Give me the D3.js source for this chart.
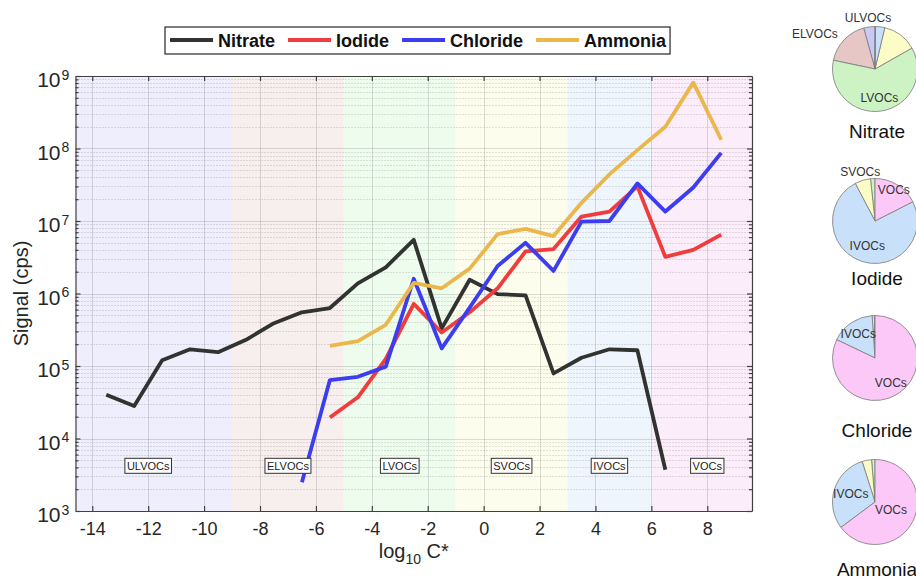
<!DOCTYPE html>
<html lang="en">
<head>
<meta charset="UTF-8">
<title>Signal vs log10 C*</title>
<script src="https://d3js.org/d3.v7.min.js"></script>
<style>
  body { margin: 0; background: #fff; font-family: "Liberation Sans", Arial, sans-serif; }
  .grid-major { stroke: #000; stroke-opacity: 0.13; stroke-width: 1; }
  .grid-minor { stroke: #000; stroke-opacity: 0.22; stroke-width: 1; stroke-dasharray: 1,2; }
  .series { fill: none; stroke-width: 3.8; stroke-linejoin: round; stroke-linecap: butt; }
  .axis path, .axis line { stroke: #404040; stroke-width: 1.2; }
  .axis text { font-family: "Liberation Sans", Arial, sans-serif; fill: #262626; }
  .class-box rect { fill: #fff; stroke: #333; stroke-width: 1; }
  .class-box text { font-size: 11px; fill: #222; }
  .pie-label { font-size: 12px; fill: #333; }
  .pie-title { font-size: 19px; fill: #111; }
</style>
</head>
<body>
<div id="chart"></div>
<script>
// bin centres, log10 C*
var logC = [-13.5, -12.5, -11.5, -10.5, -9.5, -8.5, -7.5, -6.5, -5.5, -4.5, -3.5, -2.5,
            -1.5, -0.5, 0.5, 1.5, 2.5, 3.5, 4.5, 5.5, 6.5, 7.5, 8.5];

// signal (cps) per reagent ion, null = no point
var nitrate  = [4.0e4, 2.8e4, 1.2e5, 1.7e5, 1.55e5, 2.3e5, 3.9e5, 5.5e5, 6.3e5, 1.38e6, 2.3e6, 5.5e6,
                3.3e5, 1.55e6, 9.8e5, 9.4e5, 7.9e4, 1.3e5, 1.7e5, 1.65e5, 3.7e3, null, null];
var iodide   = [null, null, null, null, null, null, null, null, 1.95e4, 3.7e4, 1.25e5, 7.2e5,
                2.9e5, 5.5e5, 1.18e6, 3.8e6, 4.1e6, 1.15e7, 1.35e7, 3.0e7, 3.2e6, 4.0e6, 6.5e6];
var chloride = [null, null, null, null, null, null, null, 2.5e3, 6.4e4, 7.1e4, 9.8e4, 1.6e6,
                1.75e5, 6.4e5, 2.4e6, 5.0e6, 2.05e6, 9.8e6, 1.0e7, 3.3e7, 1.35e7, 2.9e7, 8.7e7];
var ammonia  = [null, null, null, null, null, null, null, null, 1.9e5, 2.2e5, 3.7e5, 1.4e6,
                1.18e6, 2.2e6, 6.6e6, 7.8e6, 6.2e6, 1.78e7, 4.4e7, 9.5e7, 2.0e8, 8.1e8, 1.32e8];

var seriesNames = ["Nitrate", "Iodide", "Chloride", "Ammonia"];

// volatility classes
var classNames  = ["ULVOCs", "ELVOCs", "LVOCs", "SVOCs", "IVOCs", "VOCs"];
var classEdges  = [-9, -5, -1, 3, 6];
var classLabelX = [-12, -7, -3, 1, 4.5, 8];
var classLabelY = 4200;

var xTickValues = [-14, -12, -10, -8, -6, -4, -2, 0, 2, 4, 6, 8];
var yDecades = [1e3, 1e4, 1e5, 1e6, 1e7, 1e8, 1e9];

// pie shares (%) in class order ULVOCs..VOCs
var nitrateShares  = [4.3, 17.4, 61.5, 13.1, 3.5, 0.2];
var iodideShares   = [0, 0, 1.7, 6.0, 74.8, 17.5];
var chlorideShares = [0, 0, 0.3, 0.8, 16.8, 82.1];
var ammoniaShares  = [0, 0, 1.3, 3.6, 30.3, 64.8];

var nitratePieLabels  = ["ULVOCs", "ELVOCs", "LVOCs"];
var iodidePieLabels   = ["SVOCs", "VOCs", "IVOCs"];
var chloridePieLabels = ["IVOCs", "VOCs"];
var ammoniaPieLabels  = ["IVOCs", "VOCs"];

// ---- styling / layout ----
var W = 916, H = 580;
var lineColors = ["#30332f", "#f03c3c", "#3c3cf0", "#ebb74b"];
var bandColors = ["#eeeefc", "#f7efee", "#eefcee", "#fdfdee", "#eef5fd", "#fcedfb"];
var pieColors  = ["#c9c9f3", "#e7c6c6", "#cdf3c5", "#fcfcc6", "#c8e0f9", "#fbc8f7"];

var P = {left: 75.5, right: 752, top: 76, bottom: 511};

var svg = d3.select("#chart").append("svg")
    .attr("width", W).attr("height", H);

var x = d3.scaleLinear().domain([-14.6, 9.6]).range([P.left, P.right]);
var y = d3.scaleLog().domain([1e3, 1e9]).range([P.bottom, P.top]);

// background bands
var edges = [x.domain()[0]].concat(classEdges, [x.domain()[1]]);
svg.append("g").selectAll("rect")
    .data(classNames)
  .enter().append("rect")
    .attr("x", function(d, i) { return x(edges[i]); })
    .attr("width", function(d, i) { return x(edges[i + 1]) - x(edges[i]); })
    .attr("y", P.top)
    .attr("height", P.bottom - P.top)
    .attr("fill", function(d, i) { return bandColors[i]; });

// grid
var minorVals = [];
yDecades.slice(0, -1).forEach(function(d) {
    for (var k = 2; k <= 9; k++) minorVals.push(d * k);
});
var grid = svg.append("g");
grid.selectAll(".grid-minor").data(minorVals).enter().append("line")
    .attr("class", "grid-minor")
    .attr("x1", P.left).attr("x2", P.right)
    .attr("y1", function(d) { return Math.round(y(d)) + 0.5; })
    .attr("y2", function(d) { return Math.round(y(d)) + 0.5; });
grid.selectAll(".gy").data(yDecades.slice(1, -1)).enter().append("line")
    .attr("class", "grid-major")
    .attr("x1", P.left).attr("x2", P.right)
    .attr("y1", function(d) { return Math.round(y(d)) + 0.5; })
    .attr("y2", function(d) { return Math.round(y(d)) + 0.5; });
grid.selectAll(".gx").data(xTickValues).enter().append("line")
    .attr("class", "grid-major")
    .attr("y1", P.top).attr("y2", P.bottom)
    .attr("x1", function(d) { return Math.round(x(d)) + 0.5; })
    .attr("x2", function(d) { return Math.round(x(d)) + 0.5; });

// series lines
var allSeries = [nitrate, iodide, chloride, ammonia];
var line = d3.line()
    .defined(function(d) { return d != null; })
    .x(function(d, i) { return x(logC[i]); })
    .y(function(d) { return y(d); });

svg.append("g").selectAll("path")
    .data(allSeries)
  .enter().append("path")
    .attr("class", "series")
    .attr("stroke", function(d, i) { return lineColors[i]; })
    .attr("d", line);

// class label boxes
var boxes = svg.append("g").selectAll("g")
    .data(classNames)
  .enter().append("g")
    .attr("class", "class-box")
    .attr("transform", function(d, i) {
        return "translate(" + x(classLabelX[i]) + "," + y(classLabelY) + ")";
    });
boxes.append("text")
    .attr("text-anchor", "middle")
    .attr("dy", "0.36em")
    .text(function(d) { return d; });
boxes.each(function() {
    var g = d3.select(this);
    var w = g.select("text").node().getComputedTextLength() + 4;
    g.insert("rect", "text")
        .attr("x", -w / 2).attr("y", -7.5)
        .attr("width", w).attr("height", 15);
});

// axes
svg.append("g").attr("class", "axis")
    .attr("transform", "translate(0," + P.bottom + ")")
    .call(d3.axisBottom(x).tickValues(xTickValues).tickSizeInner(-5).tickSizeOuter(0)
        .tickPadding(11).tickFormat(function(d) { return String(d); }))
    .selectAll("text").style("font-size", "18px");

svg.append("g").attr("class", "axis")
    .attr("transform", "translate(0," + P.top + ")")
    .call(d3.axisTop(x).tickValues(xTickValues).tickSizeInner(-5).tickSizeOuter(0).tickFormat(""));

var yLeft = svg.append("g").attr("class", "axis")
    .attr("transform", "translate(" + P.left + ",0)")
    .call(d3.axisLeft(y).tickValues(yDecades).tickSizeInner(-5).tickSizeOuter(0).tickFormat(""));
svg.append("g").attr("class", "axis")
    .attr("transform", "translate(" + P.left + ",0)")
    .call(d3.axisLeft(y).tickValues(minorVals).tickSizeInner(-3).tickSizeOuter(0).tickFormat(""))
    .select(".domain").remove();
svg.append("g").attr("class", "axis")
    .attr("transform", "translate(" + P.right + ",0)")
    .call(d3.axisRight(y).tickValues(yDecades).tickSizeInner(-5).tickSizeOuter(0).tickFormat(""));
svg.append("g").attr("class", "axis")
    .attr("transform", "translate(" + P.right + ",0)")
    .call(d3.axisRight(y).tickValues(minorVals).tickSizeInner(-3).tickSizeOuter(0).tickFormat(""))
    .select(".domain").remove();

// y tick labels as 10^n
yLeft.selectAll(".tick").each(function(d) {
    var t = d3.select(this);
    t.append("text")
        .attr("x", -15).attr("y", 10.7)
        .attr("text-anchor", "end")
        .style("font-size", "21px")
        .text("10");
    t.append("text")
        .attr("x", -14).attr("y", 3)
        .attr("text-anchor", "start")
        .style("font-size", "14px")
        .text(Math.round(Math.log10(d)));
});

// axis titles
svg.append("text")
    .attr("transform", "translate(28," + (P.top + P.bottom) / 2 + ") rotate(-90)")
    .attr("text-anchor", "middle")
    .style("font-size", "20px").attr("fill", "#262626")
    .text("Signal (cps)");

var xt = svg.append("text")
    .attr("x", (P.left + P.right) / 2).attr("y", 558)
    .attr("text-anchor", "middle")
    .attr("fill", "#262626")
    .style("font-size", "20px");
xt.append("tspan").text("log");
xt.append("tspan").attr("dy", 6).style("font-size", "14px").text("10");
xt.append("tspan").attr("dy", -6).text(" C*");

// legend
var lg = svg.append("g");
var lgRect = lg.append("rect")
    .attr("x", 165).attr("y", 27).attr("height", 27)
    .attr("fill", "#fff").attr("stroke", "#262626").attr("stroke-width", 1.2);
var cx0 = 170;
seriesNames.forEach(function(name, i) {
    lg.append("line")
        .attr("x1", cx0).attr("x2", cx0 + 43)
        .attr("y1", 40).attr("y2", 40)
        .attr("stroke", lineColors[i]).attr("stroke-width", 3.8);
    var t = lg.append("text")
        .attr("x", cx0 + 48).attr("y", 46.5)
        .style("font-size", "18px").style("font-weight", "bold")
        .attr("fill", "#111")
        .text(name);
    cx0 += 48 + t.node().getComputedTextLength() + 13;
});
lgRect.attr("width", cx0 - 13 + 4 - 165);

// pies
var pieShares = [nitrateShares, iodideShares, chlorideShares, ammoniaShares];
var pieLabels = [nitratePieLabels, iodidePieLabels, chloridePieLabels, ammoniaPieLabels];
var pieCY = [69, 221, 358, 502];
var pieTitleY = [138, 285, 437, 576];
var pieCX = 875, pieR = 42.5;
var labelRadius = [
    {ULVOCs: 1.22, ELVOCs: 1.2, LVOCs: 0.68},
    {SVOCs: 1.2, VOCs: 0.85, IVOCs: 0.6},
    {IVOCs: 0.7, VOCs: 0.7},
    {IVOCs: 0.6, VOCs: 0.42}
];

var pie = d3.pie().sort(null).startAngle(0).endAngle(-2 * Math.PI)
    .value(function(d) { return d.v; });
var arc = d3.arc().innerRadius(0).outerRadius(pieR);

seriesNames.forEach(function(name, p) {
    var data = classNames.map(function(c, i) { return {c: c, i: i, v: pieShares[p][i]}; })
        .filter(function(d) { return d.v > 0; });
    var g = svg.append("g").attr("transform", "translate(" + pieCX + "," + pieCY[p] + ")");
    var arcs = pie(data);
    g.selectAll("path").data(arcs).enter().append("path")
        .attr("d", arc)
        .attr("fill", function(d) { return pieColors[d.data.i]; })
        .attr("stroke", "#7a7a7a").attr("stroke-width", 0.8);
    arcs.forEach(function(a) {
        if (pieLabels[p].indexOf(a.data.c) < 0) return;
        var f = labelRadius[p][a.data.c];
        var ang = (a.startAngle + a.endAngle) / 2;
        var lx = Math.sin(ang) * pieR * f, ly = -Math.cos(ang) * pieR * f;
        var anchor = "middle";
        if (f > 1 && Math.sin(ang) < -0.4) anchor = "end";
        if (f > 1 && Math.sin(ang) > 0.4) anchor = "start";
        g.append("text").attr("class", "pie-label")
            .attr("x", lx).attr("y", ly).attr("dy", "0.35em")
            .attr("text-anchor", anchor)
            .text(a.data.c);
    });
    svg.append("text").attr("class", "pie-title")
        .attr("x", pieCX + 2).attr("y", pieTitleY[p])
        .attr("text-anchor", "middle")
        .text(name);
});
</script>
</body>
</html>
